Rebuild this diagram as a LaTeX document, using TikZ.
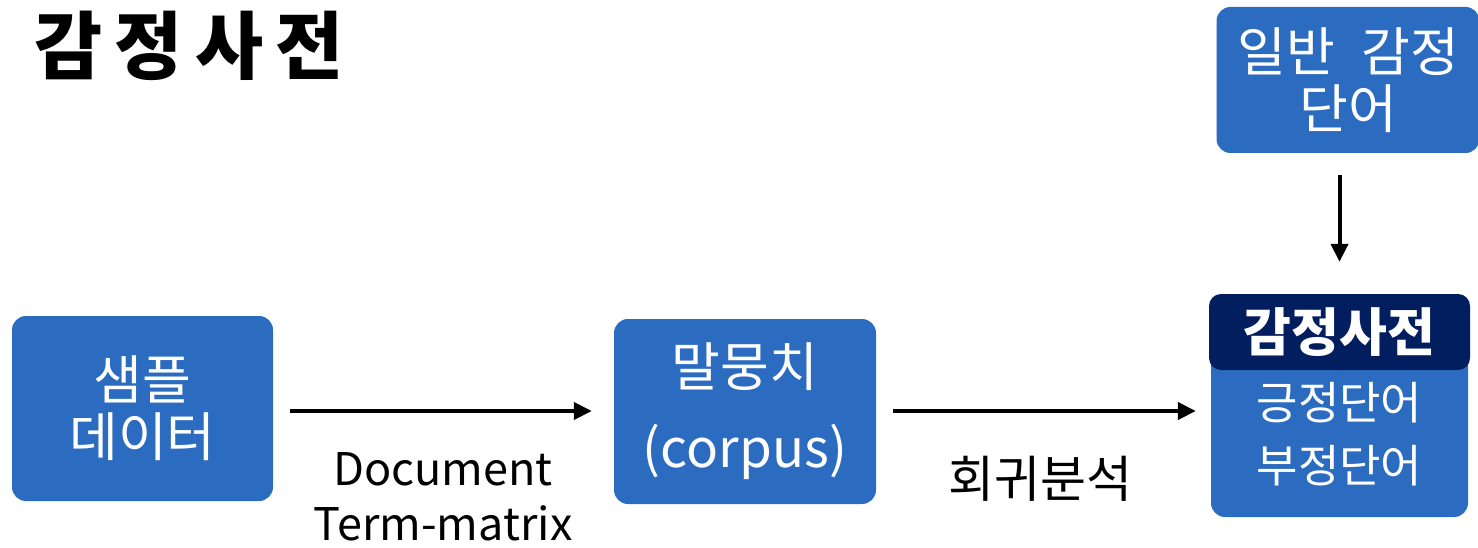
\documentclass[tikz,border=0pt]{standalone}
\usepackage{fontspec}
\setmainfont{Noto Sans CJK KR}
\usetikzlibrary{arrows.meta}
\definecolor{boxblue}{RGB}{44,108,192}
\definecolor{headnavy}{RGB}{2,30,94}

\begin{document}
\begin{tikzpicture}[x=1pt,y=-1pt,
    bluebox/.style={fill=boxblue, rounded corners=14pt, text=white, align=center, inner sep=0pt},
    flow/.style={line width=4pt, -{Triangle[length=18pt,width=17pt]}},
    big/.style={font=\fontsize{53}{57}\selectfont},
    mid/.style={font=\fontsize{45}{55}\selectfont}
    ]
    \useasboundingbox (0,0) rectangle (1478,548);
    % title
    \node[anchor=west, font=\fontsize{74}{80}\bfseries\selectfont] (title) at (31,46) {감\,정\,사\,전};

    % boxes
    \node[bluebox, big, minimum width=261pt, minimum height=185pt] (sample) at (142.5,408.5) {샘플\\데이터};
    \node[bluebox, big, minimum width=262pt, minimum height=185pt] (corpus) at (745,411.5) {말뭉치\\[24pt](corpus)};
    \node[bluebox, big, minimum width=263pt, minimum height=146pt] (general) at (1348,80) {일반\hspace{0.5em}감정\\단어};

    % dictionary box
    \node[bluebox, minimum width=257pt, minimum height=217pt] (dict) at (1339.5,408.5) {};
    \node[fill=headnavy, rounded corners=12pt, text=white, inner sep=0pt,
          minimum width=261pt, minimum height=76pt,
          font=\fontsize{52}{57}\bfseries\selectfont] (dicthead) at (1339.5,332) {감정사전};
    \node[text=white, font=\fontsize{45}{50}\selectfont] (pos) at (1339.5,403) {긍정단어};
    \node[text=white, font=\fontsize{45}{50}\selectfont] (neg) at (1339.5,466) {부정단어};

    % labels
    \node[mid, align=center] (dtm) at (443,497) {Document\\Term-matrix};
    \node[font=\fontsize{50}{55}\selectfont] (reg) at (1040,479) {회귀분석};

    % arrows
    \draw[flow, shorten <=17pt, shorten >=22pt] (sample.east |- 0,411) -- (corpus.west |- 0,411);
    \draw[flow, shorten <=17pt, shorten >=15pt] (corpus.east |- 0,411) -- (dict.west |- 0,411);
    \draw[flow, shorten <=22pt, shorten >=32pt] (dicthead.north |- general.south) -- (dicthead.north);
\end{tikzpicture}
\end{document}
